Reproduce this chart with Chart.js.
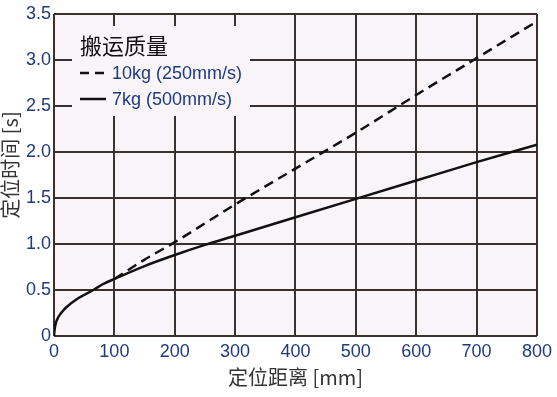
<!DOCTYPE html>
<html>
<head>
<meta charset="utf-8">
<script src="https://cdn.jsdelivr.net/npm/chart.js@4.4.0/dist/chart.umd.min.js"></script>
<style>
  html, body { margin: 0; padding: 0; background: #fff; }
  #wrap { width: 557px; height: 397px; }
</style>
</head>
<body>
<div id="wrap"><canvas id="myChart" width="557" height="397"></canvas></div>
<script>
// datos
const dist7 = [0, 1, 3, 6, 10, 15, 20, 40, 65, 80, 100, 150, 200, 250, 300, 400, 500, 600, 700, 800];
const time7 = [0, 0.07, 0.14, 0.19, 0.235, 0.275, 0.31, 0.41, 0.5, 0.56, 0.62, 0.76, 0.88, 0.99, 1.09, 1.29, 1.49, 1.69, 1.89, 2.08];
const dist10 = [100, 150, 200, 300, 400, 500, 600, 700, 800];
const time10 = [0.62, 0.83, 1.02, 1.43, 1.82, 2.21, 2.62, 3.02, 3.42];
const xTicks = [0, 100, 200, 300, 400, 500, 600, 700, 800];
const yTicks = [0, 0.5, 1.0, 1.5, 2.0, 2.5, 3.0, 3.5];
const legendTitle = '搬运质量';
const label10 = '10kg (250mm/s)';
const label7 = '7kg (500mm/s)';
const xTitle = '定位距离 [mm]';
const yTitle = '定位时间 [s]';

const toPts = (xs, ys) => xs.map((x, i) => ({ x: x, y: ys[i] }));

const gridColor = '#3a302e';
const tickColor = '#1f3a7c';
const plotBg = '#f8f4f8';
const cjk = '"Noto Sans CJK SC", "Noto Sans", sans-serif';
const numFont = '"Liberation Sans", Arial, sans-serif';

const bgPlugin = {
    id: 'bg',
    beforeDraw(chart) {
        const { ctx, chartArea: a } = chart;
        ctx.save();
        ctx.fillStyle = plotBg;
        ctx.fillRect(a.left, a.top, a.right - a.left, a.bottom - a.top);
        ctx.restore();
    }
};

const legendPlugin = {
    id: 'boxLegend',
    beforeDatasetsDraw(chart) {
        const ctx = chart.ctx;
        ctx.save();
        ctx.fillStyle = plotBg;
        ctx.fillRect(72, 26, 178, 90);
        ctx.fillStyle = '#111';
        ctx.font = '22px ' + cjk;
        ctx.textBaseline = 'middle';
        ctx.fillText(legendTitle, 80, 46);
        ctx.strokeStyle = '#111';
        ctx.lineWidth = 2.5;
        ctx.setLineDash([9, 6]);
        ctx.beginPath(); ctx.moveTo(80, 73); ctx.lineTo(106, 73); ctx.stroke();
        ctx.setLineDash([]);
        ctx.beginPath(); ctx.moveTo(80, 99); ctx.lineTo(106, 99); ctx.stroke();
        ctx.fillStyle = tickColor;
        ctx.font = '18px ' + numFont;
        ctx.fillText(label10, 112, 74);
        ctx.fillText(label7, 112, 100);
        ctx.restore();
    },
    afterDraw(chart) {
        const { ctx, chartArea: a } = chart;
        ctx.save();
        ctx.fillStyle = '#333';
        ctx.font = '20px ' + cjk;
        ctx.textAlign = 'center';
        ctx.textBaseline = 'middle';
        ctx.fillText(xTitle, (a.left + a.right) / 2, 377);
        ctx.translate(10, 165);
        ctx.rotate(-Math.PI / 2);
        ctx.fillText(yTitle, 0, 0);
        ctx.restore();
    }
};

var ctx = document.getElementById('myChart').getContext('2d');
var myChart = new Chart(ctx, {
    type: 'line',
    data: {
        datasets: [{
            label: label10,
            data: toPts(dist10, time10),
            borderColor: '#111',
            borderWidth: 2.5,
            borderDash: [10, 6],
            pointRadius: 0,
            cubicInterpolationMode: 'monotone',
            fill: false
        },
        {
            label: label7,
            data: toPts(dist7, time7),
            borderColor: '#111',
            borderWidth: 2.5,
            pointRadius: 0,
            cubicInterpolationMode: 'monotone',
            fill: false
        }]
    },
    options: {
        responsive: false,
        animation: false,
        layout: { padding: { top: 14, right: 20, left: 0, bottom: 0 } },
        plugins: {
            legend: { display: false },
            tooltip: { enabled: false }
        },
        scales: {
            x: {
                type: 'linear',
                min: 0,
                max: 800,
                afterBuildTicks: s => { s.ticks = xTicks.map(v => ({ value: v })); },
                afterFit: s => { s.height = 61; },
                grid: { color: gridColor, lineWidth: 2, drawTicks: false },
                border: { display: false },
                ticks: {
                    padding: 5,
                    color: tickColor,
                    font: { family: numFont, size: 18 },
                    maxRotation: 0,
                    callback: v => String(v)
                }
            },
            y: {
                min: 0,
                max: 3.5,
                afterBuildTicks: s => { s.ticks = yTicks.map(v => ({ value: v })); },
                afterFit: s => { s.width = 54; },
                grid: { color: gridColor, lineWidth: 2, drawTicks: false },
                border: { display: false },
                ticks: {
                    padding: 3,
                    color: tickColor,
                    font: { family: numFont, size: 18 },
                    callback: v => v === 0 ? '0' : v.toFixed(1)
                }
            }
        }
    },
    plugins: [bgPlugin, legendPlugin]
});
</script>
</body>
</html>
